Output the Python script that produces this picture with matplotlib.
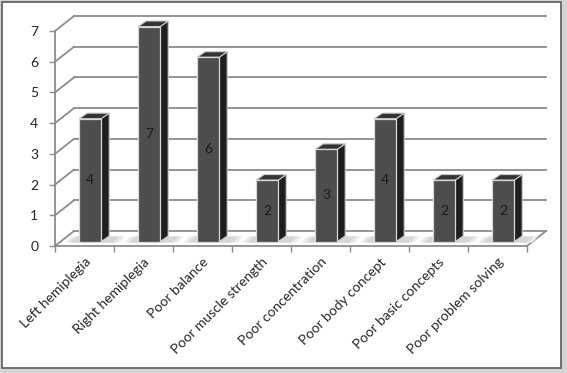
import matplotlib.pyplot as plt
from matplotlib.patches import Polygon, Rectangle

categories = ["Left hemiplegia", "Right hemiplegia", "Poor balance", "Poor muscle strength",
              "Poor concentration", "Poor body concept", "Poor basic concepts", "Poor problem solving"]
values = [4, 7, 6, 2, 3, 4, 2, 2]
y_ticks = [0, 1, 2, 3, 4, 5, 6, 7]

plt.rcParams['font.family'] = ['Lato', 'DejaVu Sans']

W, H = 567, 373
fig = plt.figure(figsize=(W / 100, H / 100), dpi=100)
fig.patch.set_facecolor('#d4d4d4')
fig.patches.append(Rectangle((2 / W, 5 / H), 559 / W, 366 / H, transform=fig.transFigure,
                             facecolor='white', edgecolor='#5a5a5a', lw=1.2, zorder=-5))

# front plane of the plot: x 55..527 px, y 246 (0) .. 31 (7)
ax = fig.add_axes([55 / W, (H - 246) / H, 472 / W, 215 / H])
ax.set_xlim(0, 8)
ax.set_ylim(0, 7)
ax.patch.set_alpha(0)
for s in ax.spines.values():
    s.set_visible(False)

px = 8 / 472      # data units per px in x
py = 7 / 215      # data units per px in y
dx, dy = 19 * px, 15 * py     # wall depth
grid_col = '#8c8c8c'

# back wall gridlines and left wall diagonals
for k in y_ticks:
    ax.plot([dx, 8 + dx], [k + dy, k + dy], color=grid_col, lw=1.3, clip_on=False, zorder=1)
    ax.plot([0, dx], [k, k + dy], color=grid_col, lw=1.3, clip_on=False, zorder=1)
# floor
ax.plot([0, 8], [0, 0], color=grid_col, lw=1.3, clip_on=False, zorder=1)
ax.plot([8, 8 + dx], [0, dy], color=grid_col, lw=1.3, clip_on=False, zorder=1)
ax.plot([0, 0], [0, 7], color=grid_col, lw=1.3, clip_on=False, zorder=1)

# bars
f = 0.3
bw = 22 * px
bdx, bdy = 8 * px, 5.5 * py
for i, v in enumerate(values):
    x0 = i + 0.5 - bw / 2 + f * dx
    y0 = f * dy
    # soft floor shadow
    for grow, col in [(6, '#eeeeee'), (3, '#e2e2e2'), (0, '#d6d6d6')]:
        ax.add_patch(Polygon([(x0 - (8 + grow) * px, y0 - 1 * py), (x0 + bw + (12 + grow) * px, y0 - 1 * py),
                              (x0 + bw + (18 + grow) * px, y0 + 5 * py), (x0 - (2 + grow) * px, y0 + 5 * py)],
                             closed=True, facecolor=col, edgecolor='none', zorder=2, clip_on=False))
    ax.add_patch(Polygon([(x0 + bw, y0), (x0 + bw + bdx, y0 + bdy), (x0 + bw + bdx, y0 + v + bdy),
                          (x0 + bw, y0 + v)], closed=True, facecolor='#1e1e1e',
                         edgecolor='#c8c8c8', lw=0.8, zorder=3, clip_on=False))
    ax.add_patch(Polygon([(x0, y0 + v), (x0 + bw, y0 + v), (x0 + bw + bdx, y0 + v + bdy),
                          (x0 + bdx, y0 + v + bdy)], closed=True, facecolor='#333333',
                         edgecolor='#c8c8c8', lw=0.8, zorder=3, clip_on=False))
    ax.add_patch(Rectangle((x0, y0), bw, v, facecolor='#4d4d4d', edgecolor='#d8d8d8',
                           lw=0.9, zorder=4, clip_on=False))
    ax.text(x0 + bw / 2, y0 + v / 2, str(v), ha='center', va='center', fontsize=10,
            color='#1a1a1a', zorder=5)

ax.set_yticks(y_ticks)
ax.set_yticklabels([str(t) for t in y_ticks], fontsize=10, color='#262626')
ax.tick_params(axis='y', length=4, width=1, color=grid_col, pad=8)

ax.set_xticks([i + 0.5 for i in range(8)])
ax.set_xticklabels(categories, rotation=45, ha='right', va='top', rotation_mode='anchor',
                   fontsize=10, color='#262626')
ax.tick_params(axis='x', which='major', length=0, pad=7)
ax.set_xticks(range(9), minor=True)
ax.tick_params(axis='x', which='minor', length=4, width=1, color=grid_col)

fig.savefig("out.png", dpi=100, facecolor=fig.get_facecolor())
